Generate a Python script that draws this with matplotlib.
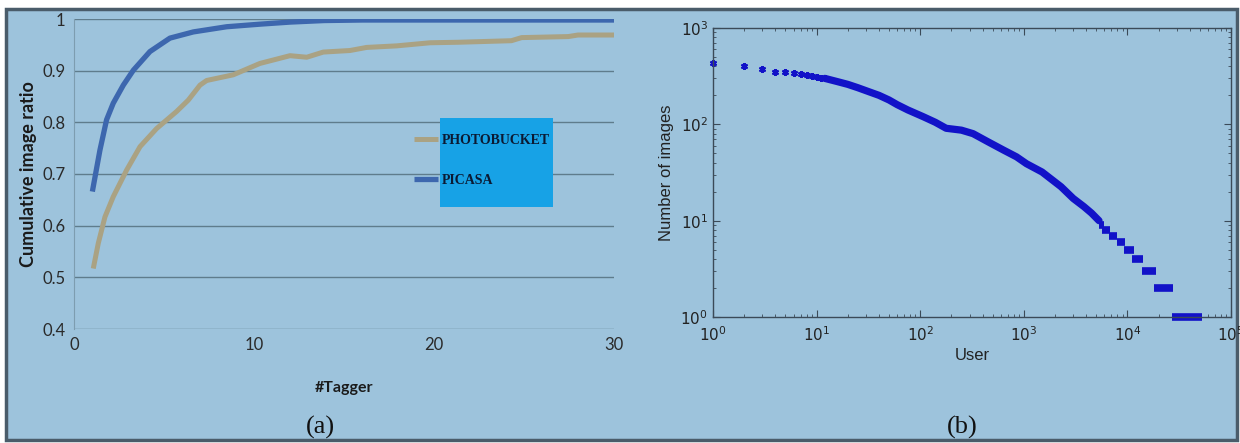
import matplotlib
matplotlib.use("Agg")
import matplotlib.pyplot as plt
from matplotlib.patches import Rectangle

# (a) cumulative image ratio vs number of taggers
picasa_x = [1.02, 1.44, 1.81, 2.18, 2.74, 3.3, 4.22, 5.33, 6.63, 8.48, 9.22,
            10.33, 12.0, 13.9, 16, 20, 25, 30]
picasa_y = [0.666, 0.746, 0.805, 0.837, 0.872, 0.901, 0.937, 0.963, 0.975, 0.985,
            0.987, 0.990, 0.994, 0.997, 0.998, 0.998, 0.998, 0.998]
photobucket_x = [1.07, 1.35, 1.72, 2.18, 2.93, 3.67, 4.59, 5.70, 6.35, 7.0, 7.37,
                 8.85, 9.59, 10.33, 12.0, 12.93, 13.85, 15.33, 16.26, 17.93, 19.78,
                 21.35, 24.3, 24.87, 27.46, 28.0, 30.0]
photobucket_y = [0.517, 0.566, 0.617, 0.656, 0.708, 0.753, 0.788, 0.821, 0.843, 0.872,
                 0.881, 0.892, 0.903, 0.914, 0.929, 0.926, 0.936, 0.939, 0.945, 0.948,
                 0.954, 0.955, 0.958, 0.964, 0.966, 0.969, 0.969]

# (b) number of images per user (rank plot)
early_rank = [1, 2, 3, 4, 5, 6, 7, 8, 9, 10, 11, 12]
early_count = [430, 406, 373, 352, 347, 341, 333, 325, 316, 312, 306, 300]
band_rank = [12, 16, 20, 25, 32, 40, 50, 60, 76, 107, 140, 178, 250, 324, 450,
             638, 850, 1062, 1500, 2290, 3000, 3800, 4500, 5320]
band_count = [300, 277, 260, 240, 218, 200, 179, 160, 141, 120, 105, 91, 87, 80, 66,
              54, 46, 39, 32, 22.5, 17, 14, 12, 10]
step_count = [9, 8, 7, 6, 5, 4, 3, 2, 1]
step_start = [5300, 5650, 6640, 7880, 9270, 11100, 13700, 18100, 26700]
step_end = [6000, 6820, 7980, 9490, 11600, 14300, 18900, 27400, 52100]

bg = '#9dc3dc'
W, H = 1240, 443

plt.rcParams['mathtext.fontset'] = 'custom'
plt.rcParams['mathtext.rm'] = 'Liberation Sans'
plt.rcParams['mathtext.default'] = 'regular'

fig = plt.figure(figsize=(12.4, 4.43), dpi=100, facecolor='white')

# panel background with dark frame
fig.patches.append(Rectangle((6 / W, 1 - 440 / H), 1231 / W, 431 / H,
                             transform=fig.transFigure, facecolor=bg,
                             edgecolor='#4a5c6a', linewidth=2.5, zorder=-10))

# ---- (a) ----
ax1 = fig.add_axes([74 / W, 1 - 329 / H, 540 / W, 310 / H])
ax1.patch.set_alpha(0)
ax1.plot(photobucket_x, photobucket_y, color='#aaa283', lw=3.6, label='PHOTOBUCKET',
         solid_capstyle='butt', solid_joinstyle='round', zorder=3)
ax1.plot(picasa_x, picasa_y, color='#3d67ae', lw=3.8, label='PICASA',
         solid_capstyle='butt', solid_joinstyle='round', zorder=4)
ax1.set_xlim(0, 30)
ax1.set_ylim(0.4, 1.0)
ax1.set_xticks([0, 10, 20, 30])
ax1.set_yticks([0.4, 0.5, 0.6, 0.7, 0.8, 0.9, 1.0])
ax1.set_yticklabels(['0.4', '0.5', '0.6', '0.7', '0.8', '0.9', '1'])
ax1.grid(axis='y', color='#5f7c8c', lw=1)
ax1.set_axisbelow(True)
for s in ax1.spines.values():
    s.set_visible(False)
ax1.spines['left'].set_visible(True)
ax1.spines['left'].set_color('#7d9db0')
ax1.tick_params(length=0, labelsize=12, labelcolor='#2a2a2a', pad=6)
for lab in ax1.get_xticklabels() + ax1.get_yticklabels():
    lab.set_family('Lato')
ax1.set_ylabel('Cumulative image ratio', fontsize=13, fontweight='bold',
               family='Lato', color='#1a1a1a', labelpad=4)
ax1.set_xlabel('#Tagger', fontsize=11.5, fontweight='bold', family='Lato',
               color='#1a1a1a', labelpad=20)

ax1.add_patch(Rectangle((0.678, 0.394), 0.209, 0.287, transform=ax1.transAxes,
                        facecolor='#17a2e6', edgecolor='none', zorder=5))
leg = ax1.legend(loc='upper left', bbox_to_anchor=(0.606, 0.67), frameon=False,
                 handlelength=1.75, handletextpad=0.3, labelspacing=1.95,
                 prop={'family': 'Liberation Serif', 'weight': 'bold', 'size': 10})
leg.set_zorder(6)
for t in leg.get_texts():
    t.set_color('#0b1a33')

# ---- (b) ----
ax2 = fig.add_axes([713 / W, 1 - 317 / H, 518 / W, 289 / H])
ax2.patch.set_alpha(0)
ax2.set_xscale('log')
ax2.set_yscale('log')
mc = '#1212c8'
ax2.plot(early_rank, early_count, linestyle='none', marker=(6, 2, 0),
         markersize=5, markeredgewidth=1.5, color=mc, clip_on=False)
ax2.plot(band_rank, band_count, color=mc, lw=5.2, solid_capstyle='round')
ax2.hlines(step_count, step_start, step_end, color=mc, lw=5.5, clip_on=False)
ax2.set_xlim(1, 1e5)
ax2.set_ylim(1, 1e3)
for s in ax2.spines.values():
    s.set_color('#3b4a58')
    s.set_linewidth(1)
ax2.tick_params(which='both', direction='in', top=True, right=True,
                color='#3b4a58', labelsize=11, labelcolor='#222222')
ax2.tick_params(which='major', length=5)
ax2.tick_params(which='minor', length=2.5)
ax2.tick_params(axis='x', pad=6)
ax2.set_xlabel('User', fontsize=12, family='Liberation Sans', color='#222222',
               labelpad=3)
ax2.set_ylabel('Number of images', fontsize=12, family='Liberation Sans',
               color='#222222', labelpad=5)

fig.text(320 / W, 1 - 427 / H, '(a)', ha='center', va='center', fontsize=19,
         family='Liberation Serif', color='#111111')
fig.text(962 / W, 1 - 427 / H, '(b)', ha='center', va='center', fontsize=19,
         family='Liberation Serif', color='#111111')

fig.savefig('out.png', dpi=100, facecolor='white')
